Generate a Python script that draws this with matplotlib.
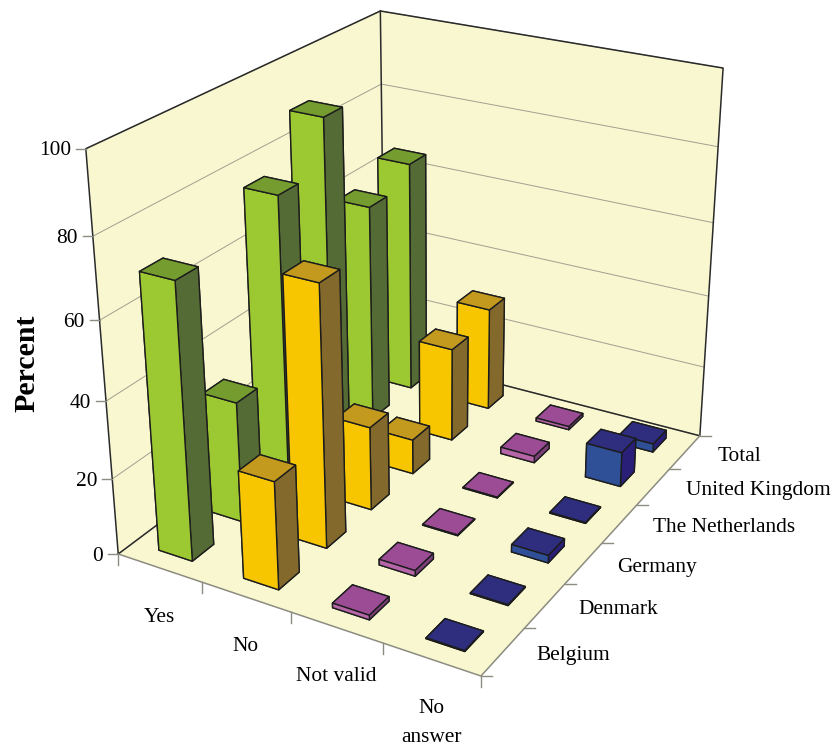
import numpy as np
import matplotlib
matplotlib.use("Agg")
import matplotlib.pyplot as plt
from matplotlib.lines import Line2D

plt.rcParams["font.family"] = ["Liberation Serif", "DejaVu Serif"]

answers = ["Yes", "No", "Not valid", "No\nanswer"]
countries = ["Belgium", "Denmark", "Germany", "The Netherlands", "United Kingdom", "Total"]

yes_pct = [71, 32, 77, 90, 60, 65]
no_pct = [28, 68, 22.5, 9.5, 26, 29]
not_valid_pct = [1.2, 1.5, 0.2, 0.2, 1.8, 0.9]
no_answer_pct = [0.2, 0.2, 2.0, 0.2, 9.5, 2.3]
z_ticks = [0, 20, 40, 60, 80, 100]

# front, top and side colours of each answer
green = ("#9cc832", "#759c2e", "#556b35")
yellow = ("#f7c600", "#c49a1e", "#836a2c")
pink = ("#b565a8", "#9b4c94", "#7d3f7a")
blue = ("#2f4f96", "#2e2d7e", "#2a1f78")
series = [(yes_pct, green), (no_pct, yellow), (not_valid_pct, pink), (no_answer_pct, blue)]

W, H = 834, 747

# floor and wall corners: data coordinates and where they land in the figure
corners_data = [(0, 0, 0), (4, 0, 0), (4, 6, 0), (0, 6, 0), (0, 0, 100), (4, 6, 100), (0, 6, 100)]
corners_px = [(118, 552), (482, 677), (700, 435), (384, 356), (85, 150), (722, 68), (382, 10)]


def fit_camera(data, px):
    rows = []
    for (x, y, z), (u, v) in zip(data, px):
        v = H - v
        rows.append([x, y, z, 1, 0, 0, 0, 0, -u * x, -u * y, -u * z, -u])
        rows.append([0, 0, 0, 0, x, y, z, 1, -v * x, -v * y, -v * z, -v])
    P = np.linalg.svd(np.array(rows, dtype=float))[2][-1].reshape(3, 4)
    centre = np.array([2, 3, 50, 1])
    P = P / (P[2] @ centre)
    # third row only has to keep the depth order
    return np.vstack([P[0], P[1], P[2] - [0, 0, 0, 0.5], P[2]])


M = fit_camera(corners_data, corners_px)


def to_px(x, y, z):
    p = M @ np.array([x, y, z, 1.0])
    return p[0] / p[3], p[1] / p[3]


fig = plt.figure(figsize=(W / 100, H / 100), dpi=100)
ax = fig.add_axes([0, 0, 1, 1], projection="3d")
ax.set_xlim(0, 4)
ax.set_ylim(0, 6)
ax.set_zlim(0, 100)
ax.get_proj = lambda: M
ax.apply_aspect = lambda position=None: None
# 2D side of the axes works in pixels, camera output is already in pixels
ax.viewLim.intervalx = (0, W)
ax.viewLim.intervaly = (0, H)
ax.computed_zorder = False
ax.patch.set_alpha(0)

for a in (ax.xaxis, ax.yaxis, ax.zaxis):
    a.set_pane_color("#f8f7d0")
    a.pane.set_edgecolor("none")
    a.line.set_color("none")
ax.zaxis._axinfo["grid"].update(color="#a0a090", linewidth=0.7)
ax.set_xticks([])
ax.set_yticks([])
ax.set_zticks(z_ticks)
ax.set_zticklabels([])
ax.tick_params(axis="z", color="none")

bar_x, bar_dx = 0.30, 0.40
bar_y, bar_dy = 0.30, 0.42

# back rows first, low x first
order = 10
for j in reversed(range(len(countries))):
    for i, (vals, cols) in enumerate(series):
        front, top, side = cols
        ax.bar3d(i + bar_x, j + bar_y, 0, bar_dx, bar_dy, vals[j],
                 color=[side, top, front, side, side, side], shade=False,
                 edgecolor="#1c1c1c", linewidth=1.0, zorder=order)
        order += 1


def frame(points, color):
    us, vs = zip(*[to_px(*p) for p in points])
    ax.add_line(Line2D(us, vs, color=color, lw=1.1, zorder=5))


# frame of the walls
dark = "#2a2a2a"
frame([(0, 0, 0), (0, 0, 100), (0, 6, 100), (4, 6, 100), (4, 6, 0), (0, 6, 0), (0, 0, 0)], dark)
frame([(0, 6, 0), (0, 6, 100)], dark)
frame([(0, 0, 0), (4, 0, 0), (4, 6, 0)], "#8c8c80")

# ticks and labels
tick_col = "#8c8c80"
for i in range(len(answers) + 1):
    u, v = to_px(i, 0, 0)
    fig.add_artist(Line2D([u, u], [v, v - 11], color=tick_col, lw=1.0, transform=ax.transData))
for j in range(len(countries) + 1):
    u, v = to_px(4, j, 0)
    fig.add_artist(Line2D([u, u + 11], [v, v], color=tick_col, lw=1.0, transform=ax.transData))

for i, name in enumerate(answers):
    u, v = to_px(i + 0.5, 0, 0)
    fig.text(u, v - 40, name, ha="center", va="top", fontsize=15.4, linespacing=1.68,
             transform=ax.transData)
for j, name in enumerate(countries):
    u, v = to_px(4, j + 0.5, 0)
    fig.text(u + 33, v - 4, name, ha="left", va="center", fontsize=15.4, transform=ax.transData)
for t in z_ticks:
    u, v = to_px(0, 0, t)
    fig.add_artist(Line2D([u - 10, u], [v, v], color=tick_col, lw=1.0, transform=ax.transData))
    fig.text(u - 15, v - 2, str(t), ha="right", va="center", fontsize=15.4, transform=ax.transData)

fig.text(27, H - 363, "Percent", rotation=90, ha="center", va="center", fontsize=21.5,
         fontweight="bold", transform=ax.transData)

fig.savefig("out.png", dpi=100)
